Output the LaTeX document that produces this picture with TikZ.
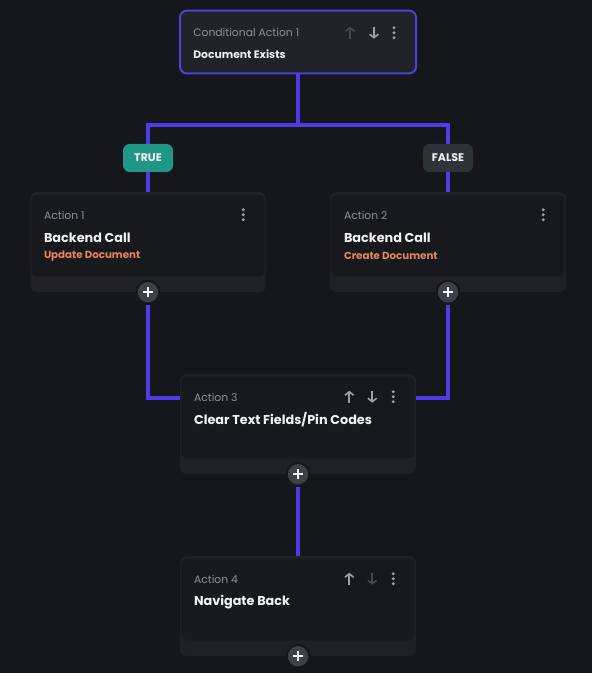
\documentclass[tikz,border=0pt]{standalone}
\usepackage{fontspec}
\setmainfont{Poppins}
\usetikzlibrary{positioning,arrows.meta}
\definecolor{bgcol}{HTML}{15171A}
\definecolor{cardbase}{HTML}{1E2225}
\definecolor{cardtop}{HTML}{17191C}
\definecolor{condfill}{HTML}{202327}
\definecolor{condline}{HTML}{4B40D8}
\definecolor{wirecol}{HTML}{4F3BE8}
\definecolor{hintcol}{HTML}{8B9199}
\definecolor{textcol}{HTML}{F2F3F5}
\definecolor{subcol}{HTML}{E8845C}
\definecolor{truecol}{HTML}{1F9686}
\definecolor{falsecol}{HTML}{2D3339}
\definecolor{pluscol}{HTML}{3B4049}
\definecolor{icondim}{HTML}{43484F}
\definecolor{iconlit}{HTML}{9CA1A8}
\tikzset{
  pics/upicon/.style={code={\draw[line width=1.2pt, -{Straight Barb[length=2.6pt,width=6.5pt]}] (0,6) -- (0,-6);}},
  pics/downicon/.style={code={\draw[line width=1.2pt, -{Straight Barb[length=2.6pt,width=6.5pt]}] (0,-6) -- (0,6);}},
  pics/dotsicon/.style={code={\foreach \d in {-5,0,5} \fill (0,\d) circle (1.6);}}
}
\begin{document}
\begin{tikzpicture}[x=0.75pt,y=-0.75pt,
  wire/.style={draw=wirecol, line width=3pt},
  card/.style={fill=cardbase, rounded corners=5pt, minimum width=177pt, minimum height=75pt, inner sep=0pt},
  condbox/.style={fill=condfill, draw=condline, line width=1.5pt, rounded corners=5pt, minimum width=177pt, minimum height=47pt, inner sep=0pt},
  hint/.style={text=hintcol, font=\fontsize{8.1}{9}\selectfont, inner sep=0pt, anchor=west},
  title/.style={text=textcol, font=\fontsize{9.6}{11}\selectfont\bfseries, inner sep=0pt, anchor=west},
  smalltitle/.style={title, font=\fontsize{8.1}{9}\selectfont\bfseries},
  sub/.style={text=subcol, font=\fontsize{7.7}{9}\selectfont\bfseries, inner sep=0pt, anchor=west},
  badge/.style={rounded corners=5pt, minimum width=37.5pt, minimum height=21pt, inner sep=0pt, text=textcol, font=\fontsize{8.3}{9}\selectfont\bfseries},
  plusbtn/.style={circle, fill=pluscol, draw=bgcol, line width=1.5pt, minimum size=17pt, inner sep=0pt},
  plusmark/.style={draw=textcol, line width=1.6pt}
]
\fill[bgcol] (0,0) rectangle (592,673);
\useasboundingbox (0,0) rectangle (592,673);

% conditional
\node[condbox] (cond) at (298,42) {};
\node[hint] (hc) at ([shift={(14,23)}]cond.north west) {Conditional Action 1};
\node[smalltitle] (tc) at ([shift={(14,45)}]cond.north west) {Document Exists};
\pic[icondim] at ([shift={(-67,23)}]cond.north east) {upicon};
\pic[iconlit] at ([shift={(-43,23)}]cond.north east) {downicon};
\pic[iconlit] at ([shift={(-23,23)}]cond.north east) {dotsicon};
\coordinate (split) at (298,125);

% actions
\node[card] (act1) at (148,242) {};
\node[card] (act2) at (448,242) {};
\node[card] (act3) at (298,424) {};
\node[card] (act4) at (298,606) {};
\foreach \a in {act1,act2,act3,act4}
  \fill[cardtop, rounded corners=4pt] ([shift={(2,3)}]\a.north west) rectangle ([shift={(-2,-16)}]\a.south east);

\node[hint] (h1) at ([shift={(14,24)}]act1.north west) {Action 1};
\node[title] (t1) at ([shift={(14,46)}]act1.north west) {Backend Call};
\node[sub] (s1) at ([shift={(14,64)}]act1.north west) {Update Document};
\pic[iconlit] at ([shift={(-23,23)}]act1.north east) {dotsicon};

\node[hint] (h2) at ([shift={(14,24)}]act2.north west) {Action 2};
\node[title] (t2) at ([shift={(14,46)}]act2.north west) {Backend Call};
\node[sub] (s2) at ([shift={(14,64)}]act2.north west) {Create Document};
\pic[iconlit] at ([shift={(-23,23)}]act2.north east) {dotsicon};

\node[hint] (h3) at ([shift={(14,24)}]act3.north west) {Action 3};
\node[title] (t3) at ([shift={(14,46)}]act3.north west) {Clear Text Fields/Pin Codes};
\pic[iconlit] at ([shift={(-67,23)}]act3.north east) {upicon};
\pic[iconlit] at ([shift={(-44,23)}]act3.north east) {downicon};
\pic[iconlit] at ([shift={(-23,23)}]act3.north east) {dotsicon};

\node[hint] (h4) at ([shift={(14,24)}]act4.north west) {Action 4};
\node[title] (t4) at ([shift={(14,46)}]act4.north west) {Navigate Back};
\pic[iconlit] at ([shift={(-67,23)}]act4.north east) {upicon};
\pic[icondim] at ([shift={(-44,23)}]act4.north east) {downicon};
\pic[iconlit] at ([shift={(-23,23)}]act4.north east) {dotsicon};

% add buttons
\foreach \a/\p in {act1/p1,act2/p2,act3/p3,act4/p4}{
  \node[plusbtn] (\p) at (\a.south) {};
  \draw[plusmark] ([xshift=-3.6pt]\p.center) -- ([xshift=3.6pt]\p.center)
    ([yshift=-3.6pt]\p.center) -- ([yshift=3.6pt]\p.center);
}

% wires
\draw[wire] (cond.south) -- (split);
\draw[wire] (act1.north) |- (split) -| (act2.north);
\draw[wire] (p1.south) |- (act3.west |- h3);
\draw[wire] (p2.south) |- (act3.east |- h3);
\draw[wire] (p3.south) -- (act4.north);

% branch labels
\node[badge, fill=truecol] (yes) at (148,158) {TRUE};
\node[badge, fill=falsecol] (no) at (448,158) {FALSE};
\end{tikzpicture}
\end{document}
